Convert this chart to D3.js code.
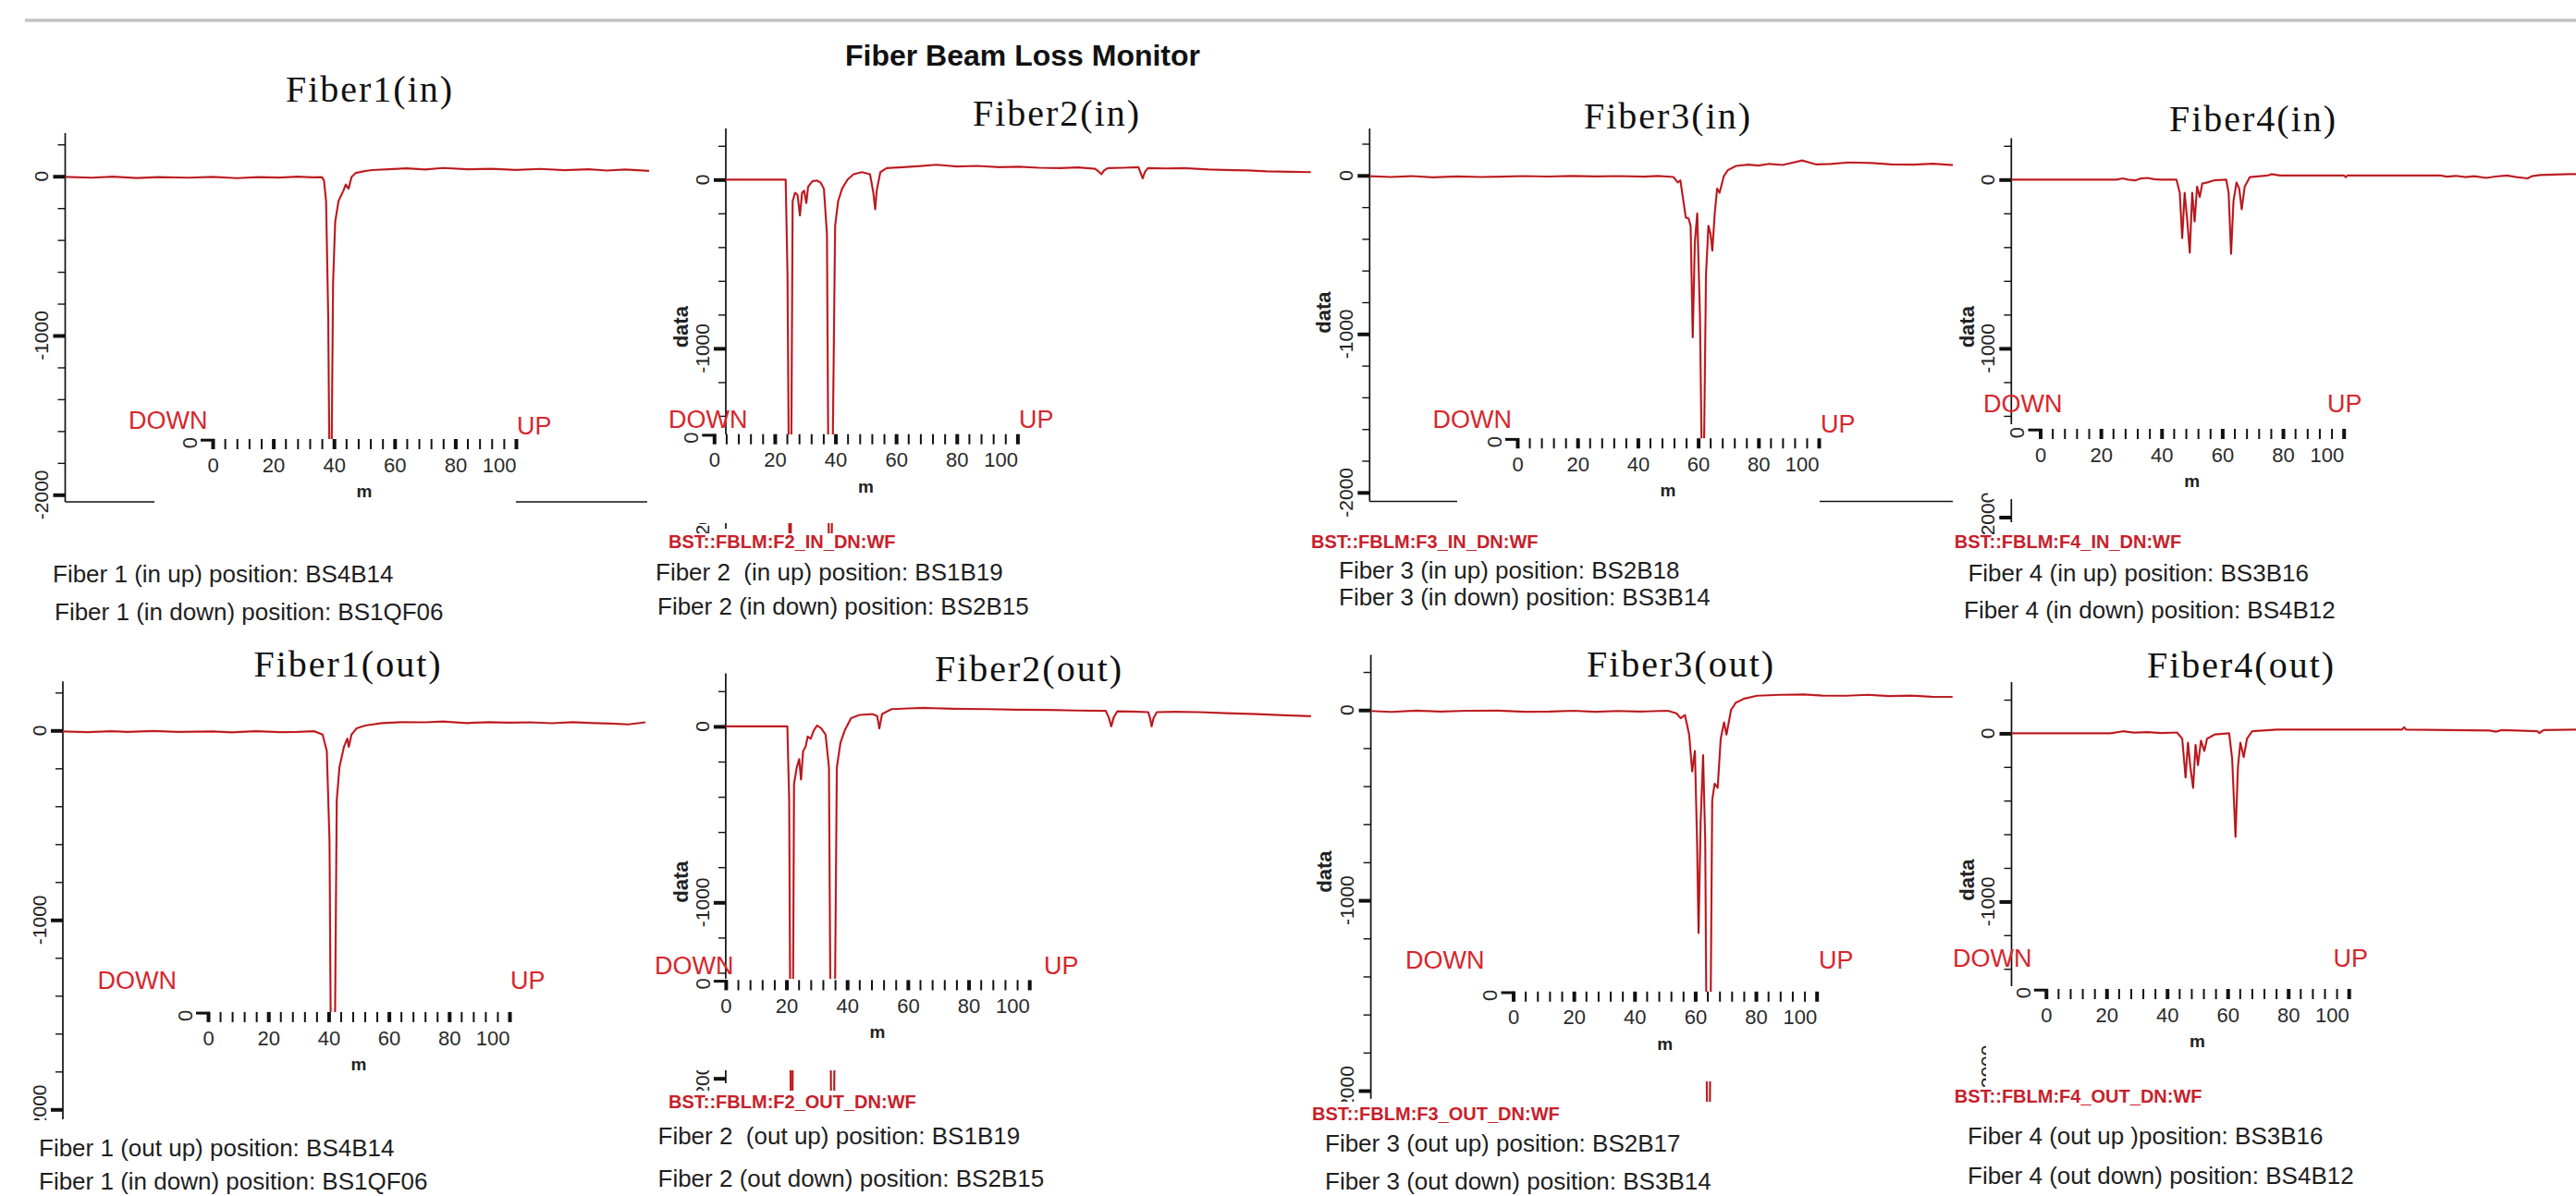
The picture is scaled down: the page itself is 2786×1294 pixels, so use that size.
<!DOCTYPE html>
<html>
<head>
<meta charset="utf-8">
<script src="https://cdn.jsdelivr.net/npm/d3@7"></script>
<style>
  body { margin: 0; background: #fff; }
  svg { display: block; }
  .ttl { font-family: "Liberation Serif", "DejaVu Serif", serif; font-size: 40px; letter-spacing: 2px; fill: #111; }
  .main { font-family: "Liberation Sans", Arial, sans-serif; font-size: 32px; font-weight: bold; fill: #111; }
  .ylab { font-family: "Liberation Sans", Arial, sans-serif; font-size: 21px; fill: #222; }
  .dlab { font-family: "Liberation Sans", Arial, sans-serif; font-size: 22px; font-weight: bold; fill: #222; }
  .mlab { font-family: "Liberation Sans", Arial, sans-serif; font-size: 22px; fill: #2a2a2a; }
  .munit { font-family: "Liberation Sans", Arial, sans-serif; font-size: 19px; font-weight: bold; fill: #222; }
  .dir { font-family: "Liberation Sans", Arial, sans-serif; font-size: 27px; fill: #d7262d; }
  .pv { font-family: "Liberation Sans", Arial, sans-serif; font-size: 20px; font-weight: bold; fill: #c8202a; }
  .note { font-family: "Liberation Sans", Arial, sans-serif; font-size: 26px; fill: #1e1e1e; white-space: pre; }
</style>
</head>
<body>
<script>
(function(){

//chart texts
var mainTitle = "Fiber Beam Loss Monitor";
var panelTitles = ["Fiber1(in)", "Fiber2(in)", "Fiber3(in)", "Fiber4(in)",
                   "Fiber1(out)", "Fiber2(out)", "Fiber3(out)", "Fiber4(out)"];
var pvNames = [null, "BST::FBLM:F2_IN_DN:WF", "BST::FBLM:F3_IN_DN:WF", "BST::FBLM:F4_IN_DN:WF",
               null, "BST::FBLM:F2_OUT_DN:WF", "BST::FBLM:F3_OUT_DN:WF", "BST::FBLM:F4_OUT_DN:WF"];
var positionNotes = [
    ["Fiber 1 (in up) position: BS4B14", "Fiber 1 (in down) position: BS1QF06"],
    ["Fiber 2  (in up) position: BS1B19", "Fiber 2 (in down) position: BS2B15"],
    ["Fiber 3 (in up) position: BS2B18", "Fiber 3 (in down) position: BS3B14"],
    ["Fiber 4 (in up) position: BS3B16", "Fiber 4 (in down) position: BS4B12"],
    ["Fiber 1 (out up) position: BS4B14", "Fiber 1 (in down) position: BS1QF06"],
    ["Fiber 2  (out up) position: BS1B19", "Fiber 2 (out down) position: BS2B15"],
    ["Fiber 3 (out up) position: BS2B17", "Fiber 3 (out down) position: BS3B14"],
    ["Fiber 4 (out up )position: BS3B16", "Fiber 4 (out down) position: BS4B12"]
];

//axis ticks
var yMajor = [0, -1000, -2000];
var yMinor = [200, -200, -400, -600, -800, -1200, -1400, -1600, -1800];
var mMajor = [0, 20, 40, 60, 80, 100];
var mMinor = [4, 8, 12, 16, 24, 28, 32, 36, 44, 48, 52, 56, 64, 68, 72, 76, 84, 88, 92, 96];

//waveforms: [position (m), signal]
var f1in = [[-48.6,-4],[-40,-9],[-33,-3],[-25,-11],[-18,-5],[-8,-9],[0,-4],[8,-12],[15,-5],[22,-8],[28,-3],[33,-7],
    [36.0,-5],[36.7,-26],[37.4,-156],[38.1,-880],[38.5,-1800],[39.2,-1800],[39.7,-675],[40.4,-286],[41.5,-156],
    [43.1,-91],[43.9,-52],[44.8,-78],[45.8,-5],[47.2,21],[49.7,31],[52.4,39],[58,44],[64,50],[70,42],[76,52],
    [84,44],[92,47],[100,40],[108,46],[116,38],[124,44],[130,36],[136,42],[143.9,34]];
var f2in = [[3.8,0],[23.6,0],[24.2,-567],[24.8,-2100],[25.3,-2100],[25.9,-127],[26.7,-78],[27.5,-90],[28.3,-213],
    [29.0,-78],[29.7,-66],[30.4,-139],[31.0,-42],[32.4,-10],[33.8,-5],[35.1,-17],[36.2,-54],[37.2,-323],[37.8,-2100],
    [38.8,-2100],[39.9,-274],[40.9,-127],[42.2,-54],[44.0,0],[46.0,32],[48.7,44],[51.4,32],[52.5,-78],[53.1,-176],
    [53.6,-66],[54.8,44],[56.9,68],[62.3,73],[68,80],[73.2,88],[80,78],[86.8,81],[94,74],[100.4,76],[107,70],
    [114.1,68],[120,72],[125.6,64],[126.6,50],[127.7,32],[128.6,55],[129.8,68],[135,70],[139.9,73],[140.6,40],
    [141.3,7],[142.0,45],[143.0,68],[149,66],[154.9,68],[163,60],[171.2,56],[176,54],[182.1,49],[190,46],[196.7,44]];
var f3in = [[-49.0,-5],[-42,-10],[-35,-4],[-28,-12],[-20,-6],[-12,-10],[-5.5,-8],[2,-4],[10,-7],[18,-3],[26,-6],
    [34,-4],[42,-8],[46.6,-3],[51.8,-10],[53.2,-44],[54.1,-31],[55.1,-161],[55.9,-266],[56.8,-271],[57.5,-318],
    [58.2,-1021],[58.9,-422],[59.7,-240],[60.6,-891],[61.2,-1800],[61.9,-1800],[62.6,-630],[63.4,-318],[64.1,-370],
    [64.7,-474],[65.5,-240],[66.3,-83],[67.1,-109],[68.5,-5],[69.9,34],[72.6,60],[76.7,68],[80,62],[83.6,73],
    [88,66],[94.5,94],[99,70],[104.1,73],[110,82],[117.8,78],[124,70],[131.5,68],[138,74],[144.5,65]];
var f4in = [[-9.5,0],[25.2,0],[27.2,7],[29,0],[31.3,-5],[33,6],[35.4,10],[37.5,2],[39.5,0],[44.9,0],[46.0,-78],
    [46.8,-347],[47.6,-78],[48.5,-249],[49.3,-433],[50.1,-78],[50.9,-249],[51.7,-42],[52.6,-103],[53.4,-24],
    [55.1,-17],[57.2,-5],[61.3,0],[62.1,-78],[62.9,-440],[63.7,-127],[64.7,-17],[65.6,-54],[66.4,-176],[67.4,-42],
    [69.1,15],[74.9,24],[76.2,32],[79.0,24],[100.2,24],[100.7,14],[101.2,24],[132.0,24],[134,17],[137,22],
    [140.2,15],[143,20],[147.0,10],[150,18],[153.8,24],[157,15],[160.6,7],[162,20],[164.7,27],[174.2,32],[176.7,32]];
var f1out = [[-48.2,-5],[-40,-9],[-32,-4],[-26.8,-8],[-18,-3],[-10,-8],[1.4,-5],[8,-10],[16,-4],[24,-9],[29.6,-8],
    [35.2,-4],[38.0,-22],[39.4,-108],[40.3,-583],[40.8,-1800],[42.0,-1800],[42.7,-367],[43.6,-194],[45.1,-86],
    [46.2,-43],[46.7,-86],[47.6,-22],[49.3,11],[52.1,26],[57.7,39],[64,44],[71.8,43],[78,47],[85.9,39],[93,44],
    [100,41],[107.0,43],[114,38],[121,44],[128.2,39],[134,36],[139.4,32],[145.1,43]];
var f2out = [[0,0],[20.3,0],[20.9,-419],[21.4,-2150],[22.0,-2150],[22.5,-326],[23.4,-233],[24.2,-186],[24.8,-302],
    [25.5,-140],[26.3,-116],[27.0,-58],[28.0,-70],[29.0,-23],[30.1,5],[31.5,-12],[32.9,-47],[34.0,-233],
    [34.7,-2150],[35.7,-2150],[36.6,-233],[37.8,-93],[39.2,-23],[41.3,47],[44.1,65],[48.3,70],[49.9,58],
    [50.6,-12],[51.5,70],[54.6,98],[60,102],[65.0,105],[75,100],[86.0,98],[96,95],[107.0,93],[116,90],[125.2,88],
    [126.2,50],[127.0,0],[127.8,50],[129.0,86],[134,84],[139.2,81],[139.8,45],[140.3,0],[140.9,45],[142.0,81],
    [148,83],[156.0,81],[165,75],[175,70],[184.0,63],[192.8,58]];
var f3out = [[-46.9,-5],[-40,-10],[-32,-3],[-24,-8],[-15,-4],[-4.9,-3],[4,-9],[11.9,-8],[20,-4],[27,-9],[34.3,-5],
    [42,-8],[51.0,-4],[53.8,-17],[55.2,-43],[56.6,-26],[58.0,-129],[59.0,-323],[59.9,-215],[60.6,-688],[61.1,-1172],
    [61.8,-581],[62.6,-237],[63.3,-688],[63.9,-2150],[64.8,-2150],[65.6,-473],[66.4,-387],[67.4,-409],[68.4,-151],
    [69.5,-65],[70.3,-129],[71.8,0],[73.4,39],[76.2,60],[80.4,75],[88,80],[95.8,82],[102,76],[109.8,75],[117,80],
    [123.8,73],[131,76],[138,70],[144.8,69]];
var f4out = [[-11.4,0],[21.3,0],[25.4,12],[29,4],[33.7,7],[38,2],[43.3,5],[45.0,-32],[46.1,-263],[46.9,-56],
    [47.7,-202],[48.6,-324],[49.4,-68],[50.2,-190],[51.2,-44],[52.3,-105],[53.2,-32],[55.7,-7],[60.5,0],
    [61.5,-153],[62.6,-616],[63.4,-202],[64.2,-56],[65.3,-141],[66.4,-32],[68.1,12],[76.3,22],[117.6,22],
    [118.3,36],[119.0,22],[146.5,17],[148.6,10],[150.6,19],[162.3,12],[163.0,2],[164.4,19],[175.1,22]];
var traces = [f1in, f2in, f3in, f4in, f1out, f2out, f3out, f4out];

//panel geometry of the screenshot collage
var layout = [
    {ax:70.5, yTop:144, yBot:543, y0:190.7, yK:363.0, m0:230, m100:558, mTop:475,
     ov:[167,475,391,85], base:[[70.5,167],[558,700]], yBase:543, title:[400,110],
     down:[139,464], up:[559,470], dl:null, pv:null, notes:[[57,630],[59,671]], mask:null},
    {ax:785, yTop:139, yBot:572, y0:194.3, yK:376.9, m0:772.3, m100:1100.4, mTop:469.7,
     ov:[700,470,460,96], base:null, title:[1143,136],
     down:[723,463], up:[1102,463], dl:[736.6,353.7], pv:[723,593], notes:[[709,628],[711,665]], mask:[700,577,700,110]},
    {ax:1481.3, yTop:139, yBot:542.5, y0:189.8, yK:361.3, m0:1641, m100:1967, mTop:474.2,
     ov:[1576,474.2,392,86], base:[[1481.3,1576],[1968,2112]], yBase:542.5, title:[1804,139],
     down:[1549.6,463], up:[1969,467.5], dl:[1431,338], pv:[1418,593], notes:[[1448,626],[1448,655]], mask:[1400,578,686,110]},
    {ax:2175.3, yTop:149.6, yBot:565, y0:194.3, yK:376.9, m0:2206.5, m100:2534.7, mTop:464,
     ov:[2150,459,450,81], base:null, title:[2437,141.6],
     down:[2145,446], up:[2517,446], dl:[2127,353.7], pv:[2113.7,593], notes:[[2128.4,629],[2124,669]], mask:[2086,578,700,110]},
    {ax:68, yTop:737.2, yBot:1210.9, y0:790.3, yK:995.3, m0:225, m100:551, mTop:1094.9,
     ov:[190,1095,370,85], base:null, title:[376.5,732],
     down:[105.6,1070], up:[552,1070], dl:null, pv:null, notes:[[42,1251],[42,1287]], mask:[0,1212,700,82]},
    {ax:784.9, yTop:728.4, yBot:1172, y0:785.9, yK:976.3, m0:784.9, m100:1113.2, mTop:1060.4,
     ov:[700,1059,460,99], base:null, title:[1113,737],
     down:[708,1053.7], up:[1129,1053.7], dl:[736.7,954], pv:[723,1198.5], notes:[[711.5,1237.5],[711.5,1284]], mask:[700,1180,700,114]},
    {ax:1482.6, yTop:708.5, yBot:1188.8, y0:768.2, yK:974.1, m0:1636.5, m100:1964.7, mTop:1072.8,
     ov:[1560,1073,410,97], base:null, title:[1818,732],
     down:[1520,1048], up:[1967,1048], dl:[1432,943], pv:[1419,1211.8], notes:[[1433,1246],[1433,1287]], mask:[1400,1192,680,102]},
    {ax:2175.5, yTop:738.1, yBot:1170, y0:793.4, yK:975.4, m0:2212.8, m100:2540.2, mTop:1070,
     ov:[2148,1067,452,118], base:null, title:[2424,733],
     down:[2112,1046], up:[2523.5,1046], dl:[2127.3,952], pv:[2113.8,1193], notes:[[2128,1237.5],[2128,1281]], mask:[2080,1178,706,116]}
];

var width = 2786, height = 1294;

var svg = d3.select("body")
    .append("svg")
    .attr("width", width)
    .attr("height", height);

svg.append("rect").attr("width", width).attr("height", height).attr("fill", "#fff");

//gray bar along the top
svg.append("line")
    .attr("x1", 27).attr("x2", width)
    .attr("y1", 22).attr("y2", 22)
    .attr("stroke", "#c2c2c2").attr("stroke-width", 3.5);

svg.append("text")
    .attr("class", "main")
    .attr("x", 1106).attr("y", 71)
    .attr("text-anchor", "middle")
    .text(mainTitle);

//plots first, so later masks can cut them the way the collage does
layout.forEach(function(p, i){
    var g = svg.append("g").attr("class", "panel");

    var x = d3.scaleLinear().domain([0, 100]).range([p.m0, p.m100]);
    var y = d3.scaleLinear().domain([0, -1000]).range([p.y0, p.yK]);

    function inside(v){ return y(v) >= p.yTop - 0.5 && y(v) <= p.yBot + 0.5; }

    //vertical axis
    g.append("line")
        .attr("x1", p.ax).attr("x2", p.ax)
        .attr("y1", p.yTop).attr("y2", p.yBot)
        .attr("stroke", "#111").attr("stroke-width", 1.7);

    var minorAxis = g.append("g")
        .attr("transform", "translate(" + p.ax + ",0)")
        .attr("color", "#111")
        .call(d3.axisLeft(y).tickValues(yMinor.filter(inside)).tickSize(8).tickFormat(""));
    minorAxis.select(".domain").remove();
    minorAxis.selectAll("line").attr("stroke-width", 1.4);

    var majorAxis = g.append("g")
        .attr("transform", "translate(" + p.ax + ",0)")
        .attr("color", "#111")
        .call(d3.axisLeft(y).tickValues(yMajor.filter(inside)).tickSize(13).tickFormat(""));
    majorAxis.select(".domain").remove();
    majorAxis.selectAll("line").attr("stroke-width", 4);

    g.selectAll(".ylab")
        .data(yMajor)
        .enter()
        .append("text")
        .attr("class", "ylab")
        .attr("transform", function(d){ return "translate(" + (p.ax - 25.5) + "," + y(d) + ") rotate(-90)"; })
        .attr("text-anchor", "middle")
        .attr("dy", "0.35em")
        .text(function(d){ return String(d); });

    if (p.dl){
        g.append("text")
            .attr("class", "dlab")
            .attr("transform", "translate(" + p.dl[0] + "," + p.dl[1] + ") rotate(-90)")
            .attr("text-anchor", "middle")
            .attr("dy", "0.35em")
            .text("data");
    };

    //bottom axis pieces left visible
    if (p.base){
        p.base.forEach(function(s){
            g.append("line")
                .attr("x1", s[0]).attr("x2", s[1])
                .attr("y1", p.yBase).attr("y2", p.yBase)
                .attr("stroke", "#111").attr("stroke-width", 1.7);
        });
    };

    //waveform
    var line = d3.line()
        .x(function(d){ return x(d[0]); })
        .y(function(d){ return y(d[1]); });

    g.append("path")
        .datum(traces[i])
        .attr("d", line)
        .attr("fill", "none")
        .attr("stroke", "#e3262c")
        .attr("stroke-width", 2.2)
        .attr("stroke-linejoin", "round");

    g.append("path")
        .datum(traces[i])
        .attr("d", line)
        .attr("fill", "none")
        .attr("stroke", "#3b0d0d")
        .attr("stroke-opacity", 0.5)
        .attr("stroke-width", 0.9);

    //pasted position scale over the plot
    g.append("rect")
        .attr("x", p.ov[0]).attr("y", p.ov[1])
        .attr("width", p.ov[2]).attr("height", p.ov[3])
        .attr("fill", "#fff");

    var mg = g.append("g").attr("transform", "translate(0," + p.mTop + ")").attr("color", "#111");

    var mMinorAxis = mg.append("g")
        .call(d3.axisBottom(x).tickValues(mMinor).tickSize(11).tickFormat(""));
    mMinorAxis.select(".domain").remove();
    mMinorAxis.selectAll("line").attr("stroke-width", 2);

    var mMajorAxis = mg.append("g")
        .call(d3.axisBottom(x).tickValues(mMajor).tickSize(11).tickPadding(9).tickFormat(d3.format("d")));
    mMajorAxis.select(".domain").remove();
    mMajorAxis.selectAll("line").attr("stroke-width", 4);
    mMajorAxis.selectAll("text")
        .attr("class", "mlab")
        .attr("font-size", null).attr("font-family", null)
        .attr("fill", null)
        .attr("text-anchor", function(d){ return d === 100 ? "end" : "middle"; });

    //corner of the pasted scale
    mg.append("line")
        .attr("x1", x(0) - 13).attr("x2", x(0) + 2)
        .attr("y1", 1.2).attr("y2", 1.2)
        .attr("stroke", "#111").attr("stroke-width", 3);

    mg.append("text")
        .attr("class", "mlab")
        .attr("font-size", 19)
        .attr("transform", "translate(" + (x(0) - 25) + ",4) rotate(-90)")
        .attr("text-anchor", "middle")
        .attr("dy", "0.35em")
        .text("0");

    mg.append("text")
        .attr("class", "munit")
        .attr("x", x(50)).attr("y", 63)
        .attr("text-anchor", "middle")
        .text("m");

    g.append("text").attr("class", "dir").attr("x", p.down[0]).attr("y", p.down[1]).text("DOWN");
    g.append("text").attr("class", "dir").attr("x", p.up[0]).attr("y", p.up[1]).text("UP");
});

//captions on top
layout.forEach(function(p, i){
    if (p.mask){
        svg.append("rect")
            .attr("x", p.mask[0]).attr("y", p.mask[1])
            .attr("width", p.mask[2]).attr("height", p.mask[3])
            .attr("fill", "#fff");
    };
});

layout.forEach(function(p, i){
    svg.append("text")
        .attr("class", "ttl")
        .attr("x", p.title[0]).attr("y", p.title[1])
        .attr("text-anchor", "middle")
        .text(panelTitles[i]);

    if (p.pv){
        svg.append("text")
            .attr("class", "pv")
            .attr("x", p.pv[0]).attr("y", p.pv[1])
            .text(pvNames[i]);
    };

    p.notes.forEach(function(n, k){
        svg.append("text")
            .attr("class", "note")
            .attr("x", n[0]).attr("y", n[1])
            .text(positionNotes[i][k]);
    });
});

})();
</script>
</body>
</html>
